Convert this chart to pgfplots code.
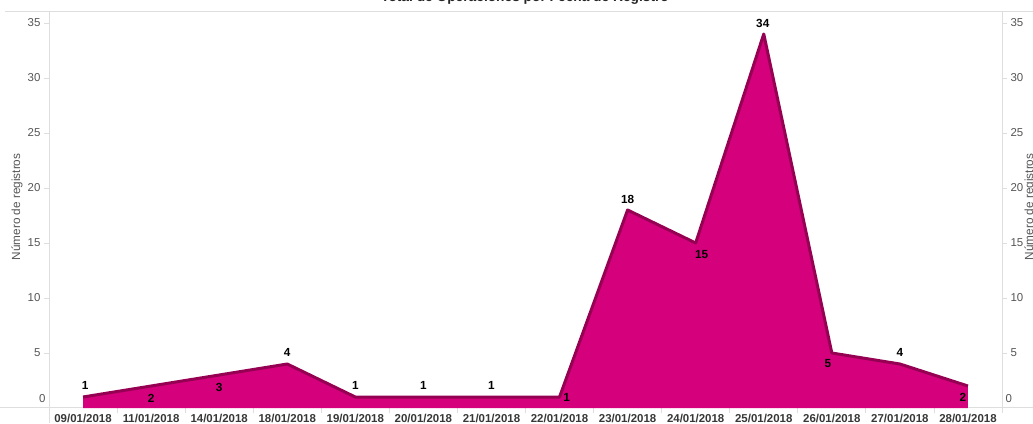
\documentclass[border=0pt]{standalone}
\usepackage{pgfplots}
\pgfplotsset{compat=1.18}
\usepackage{pgfplotstable}
\usepackage{fontspec}
\setmainfont{Liberation Sans}
\definecolor{fillc}{RGB}{212,0,124}
\definecolor{linec}{RGB}{150,0,82}
\definecolor{gridc}{RGB}{222,222,222}
\definecolor{labc}{RGB}{85,85,85}
\definecolor{xlabc}{RGB}{55,55,55}

\pgfplotstableread{
x y dx dy
0 1 2 12
1 2 0 -12
2 3 0 -12
3 4 0 12
4 1 0 12
5 1 0 12
6 1 0 12
7 1 7 0
8 18 0 11
9 15 6 -11.5
10 34 -1 11
11 5 -4 -10.6
12 4 0 12
13 2 -5 -11
}\datatable

\begin{document}
\begin{tikzpicture}
\useasboundingbox (0bp,0bp) rectangle (1033bp,424bp);
\draw[gridc, line width=1bp] (5bp,412bp) -- (1033bp,412bp);
\draw[gridc, line width=1bp] (0bp,16bp) -- (1033bp,16bp);
\draw[gridc, line width=1bp] (49bp,412bp) -- (49bp,1bp);
\draw[gridc, line width=1bp] (1002bp,412bp) -- (1002bp,11bp);
\node[font=\bfseries\fontsize{13.8}{14}\selectfont, text=black!85, anchor=base] at (525bp,422bp) {Total de Operaciones por Fecha de Registro};
\begin{axis}[
  at={(49bp,16bp)}, anchor=south west,
  scale only axis, width=953bp, height=396bp,
  xmin=-0.5, xmax=13.5, ymin=0, ymax=36,
  axis line style={draw=none},
  /pgf/number format/assume math mode=true,
  tick align=outside,
  ytick={5,10,...,35},
  extra y ticks={0},
  extra y tick style={yticklabel style={yshift=9bp}, major tick length=0pt},
  ytick pos=left,
  major tick length=5bp,
  tick style={gridc, line width=0.8bp},
  yticklabel style={font=\fontsize{11.5}{12}\selectfont, text=labc},
  xtick={0,...,13},
  xticklabels={09/01/2018,11/01/2018,14/01/2018,18/01/2018,19/01/2018,20/01/2018,21/01/2018,22/01/2018,23/01/2018,24/01/2018,25/01/2018,26/01/2018,27/01/2018,28/01/2018},
  xtick pos=bottom,
  major x tick style={draw=none},
  minor xtick={0.5,1.5,...,12.5},
  minor tick length=5bp,
  minor x tick style={gridc, line width=0.8bp},
  xticklabel style={font=\bfseries\fontsize{11.5}{12}\selectfont, text=xlabc, yshift=2bp},
  ylabel={Número de registros},
  every axis y label/.style={at={(axis description cs:-0.0336,0.508)}, rotate=90, anchor=center, font=\fontsize{11.8}{12}\selectfont, text=labc},
  clip=false,
]
\addplot[fill=fillc, draw=none] table[x=x,y=y]{\datatable} \closedcycle;
\addplot[linec, line width=3bp, line join=round] table[x=x,y=y]{\datatable};
\addplot[draw=none, mark=none, point meta=y,
  nodes near coords,
  visualization depends on={\thisrow{dx} \as \dx},
  visualization depends on={\thisrow{dy} \as \dy},
  every node near coord/.append style={anchor=center, xshift=\dx bp, yshift=\dy bp, font=\bfseries\fontsize{11.8}{12}\selectfont, text=black, inner sep=0pt},
] table[x=x,y=y]{\datatable};
\end{axis}
\begin{axis}[
  at={(49bp,16bp)}, anchor=south west,
  scale only axis, width=953bp, height=396bp,
  xmin=-0.5, xmax=13.5, ymin=0, ymax=36,
  axis line style={draw=none},
  axis x line=none,
  /pgf/number format/assume math mode=true,
  tick align=outside,
  ytick={5,10,...,35},
  extra y ticks={0},
  extra y tick style={yticklabel style={yshift=9bp}, major tick length=0pt},
  ytick pos=right, yticklabel pos=right,
  major tick length=5bp,
  tick style={gridc, line width=0.8bp},
  yticklabel style={font=\fontsize{11.5}{12}\selectfont, text=labc},
  ylabel={Número de registros},
  every axis y label/.style={at={(axis description cs:1.0295,0.508)}, rotate=90, anchor=center, font=\fontsize{11.8}{12}\selectfont, text=labc},
  clip=false,
]
\addplot[draw=none] coordinates {(0,0)};
\end{axis}
\end{tikzpicture}
\end{document}
